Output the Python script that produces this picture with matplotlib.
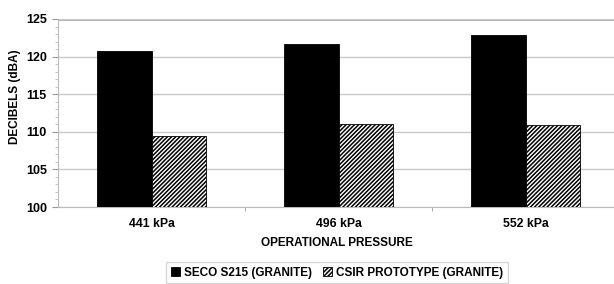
import matplotlib
matplotlib.use("Agg")
import matplotlib.pyplot as plt
import numpy as np

categories = ["441 kPa", "496 kPa", "552 kPa"]
seco = [120.7, 121.7, 122.9]
csir = [109.4, 111.1, 110.9]
series_names = ["SECO S215 (GRANITE)", "CSIR PROTOTYPE (GRANITE)"]

plt.rcParams['font.family'] = ['Liberation Sans', 'DejaVu Sans']
plt.rcParams['font.weight'] = 'bold'
plt.rcParams['hatch.linewidth'] = 1.1

fig = plt.figure(figsize=(6.14, 2.84), dpi=100)
ax = fig.add_axes([58/614, 77/284, 561/614, 188/284])

x = np.arange(len(categories))
w = 0.29
ax.bar(x - w/2, seco, w, color='black', edgecolor='black', linewidth=0.6,
       label=series_names[0], zorder=3)
ax.bar(x + w/2, csir, w, color='white', edgecolor='black', hatch='////////', linewidth=0.6,
       label=series_names[1], zorder=3)

ax.set_ylim(100, 125)
ax.set_xlim(-0.5, 2.5)
ax.set_yticks([100, 105, 110, 115, 120, 125])
ax.set_yticks(np.arange(100, 126, 1), minor=True)
ax.yaxis.grid(True, color='#c8c8c8', linewidth=1.0, zorder=0)
ax.set_xticks(x)
ax.set_xticklabels(categories, fontsize=8.8, fontweight='bold')
ax.set_xticks([0.5, 1.5], minor=True)
ax.tick_params(axis='x', which='major', length=0, pad=8)
ax.tick_params(axis='x', which='minor', length=3, color='#999999')
ax.tick_params(axis='y', which='major', length=4, color='#999999', labelsize=9, pad=4)
ax.tick_params(axis='y', which='minor', length=2, color='#bbbbbb')
for lab in ax.get_yticklabels():
    lab.set_fontweight('bold')

for s in ['top', 'right']:
    ax.spines[s].set_visible(False)
ax.spines['left'].set_color('#bbbbbb')
ax.spines['bottom'].set_color('#bbbbbb')
ax.axhline(125, color='#aaaaaa', linewidth=2, zorder=1)

fig.text(15/614, 1 - 97/284, "DECIBELS (dBA)", rotation=90, fontsize=8.5,
         fontweight='bold', ha='center', va='center')
fig.text(337/614, 1 - 243/284, "OPERATIONAL PRESSURE", fontsize=8.5,
         fontweight='bold', ha='center', va='center')

leg = fig.legend(loc='upper center', bbox_to_anchor=(337/614, 1 - 262/284), ncol=2,
                 fontsize=8.5, frameon=True, fancybox=False, edgecolor='#cccccc',
                 handlelength=0.75, handleheight=0.75, handletextpad=0.35, columnspacing=0.9,
                 borderpad=0.4, borderaxespad=0)
for t in leg.get_texts():
    t.set_fontweight('bold')

fig.savefig("out.png", dpi=100)
